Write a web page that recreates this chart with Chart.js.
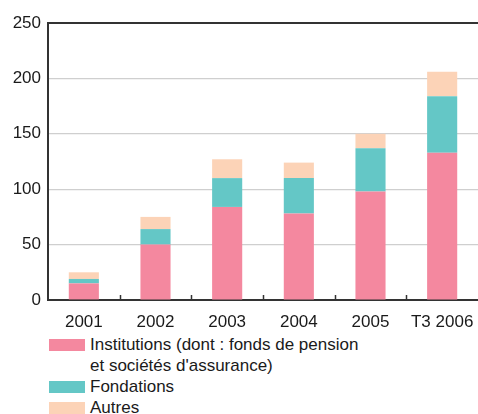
<!DOCTYPE html>
<html>
<head>
<meta charset="utf-8">
<script src="https://cdn.jsdelivr.net/npm/chart.js@4.4.0/dist/chart.umd.min.js"></script>
<style>
    body { margin: 0; background: #fff; font-family: "Liberation Sans", Arial, sans-serif; }
    #wrap { position: relative; width: 478px; height: 414px; overflow: hidden; }
    #chartBox { position: absolute; left: 0; top: 0; width: 478px; height: 332px; }
    #legend { position: absolute; left: 49px; top: 334px; font-size: 17px; color: #1a1a1a; }
    .item { display: flex; align-items: flex-start; line-height: 21px; }
    .swatch { width: 36px; height: 12px; margin-top: 5px; margin-right: 5px; flex: none; }
</style>
</head>
<body>
<div id="wrap">
    <div id="chartBox"><canvas id="chart"></canvas></div>
    <div id="legend"></div>
</div>
<script>
const years = ['2001', '2002', '2003', '2004', '2005', 'T3 2006'];
const institutions = [15, 50, 84, 78, 98, 133];
const fondations = [4, 14, 26, 32, 39, 51];
const autres = [6, 11, 17, 14, 13, 22];
const seriesNames = ['Institutions (dont : fonds de pension<br>et sociétés d\'assurance)', 'Fondations', 'Autres'];
const seriesColors = ['#F4889F', '#64C7C6', '#FCD3B7'];
const yTicks = [0, 50, 100, 150, 200, 250];

// small tick marks at category boundaries, pointing up into the plot
const boundaryTicks = {
    id: 'boundaryTicks',
    afterDraw(chart) {
        const x = chart.scales.x;
        const ctx = chart.ctx;
        const bottom = chart.chartArea.bottom;
        const step = x.getPixelForValue(1) - x.getPixelForValue(0);
        ctx.save();
        ctx.strokeStyle = '#333';
        ctx.lineWidth = 1.5;
        for (let i = 1; i < years.length; i++) {
            const px = Math.round(x.getPixelForValue(i) - step / 2) + 0.5;
            ctx.beginPath();
            ctx.moveTo(px, bottom);
            ctx.lineTo(px, bottom - 5);
            ctx.stroke();
        }
        ctx.restore();
    }
};

const datasets = [institutions, fondations, autres].map((d, i) => ({
    label: seriesNames[i],
    data: d,
    backgroundColor: seriesColors[i],
    borderWidth: 0,
    barPercentage: 0.42,
    categoryPercentage: 1
}));

new Chart(document.getElementById('chart').getContext('2d'), {
    type: 'bar',
    data: { labels: years, datasets: datasets },
    plugins: [boundaryTicks],
    options: {
        responsive: true,
        maintainAspectRatio: false,
        animation: false,
        layout: { padding: { top: 23, right: 0, left: 0, bottom: 0 } },
        plugins: { legend: { display: false }, tooltip: { enabled: false } },
        scales: {
            x: {
                stacked: true,
                grid: { display: false },
                border: { display: true, color: '#333', width: 2 },
                ticks: { color: '#1a1a1a', font: { family: 'Liberation Sans', size: 17 }, padding: 4, maxRotation: 0 },
                afterFit: s => { s.height = 32; }
            },
            y: {
                stacked: true,
                min: 0,
                max: 250,
                afterBuildTicks: s => { s.ticks = yTicks.map(v => ({ value: v })); },
                grid: {
                    color: c => c.tick && c.tick.value === 250 ? '#333' : '#cfcfcf',
                    lineWidth: c => c.tick && c.tick.value === 250 ? 2 : 1.2,
                    drawTicks: false
                },
                border: { display: true, color: '#333', width: 2 },
                ticks: { color: '#1a1a1a', font: { family: 'Liberation Sans', size: 17 }, padding: 7 },
                afterFit: s => { s.width = 48; }
            }
        }
    }
});

document.getElementById('legend').innerHTML = seriesNames.map((n, i) =>
    `<div class="item"><span class="swatch" style="background:${seriesColors[i]}"></span><span>${n}</span></div>`
).join('');
</script>
</body>
</html>
